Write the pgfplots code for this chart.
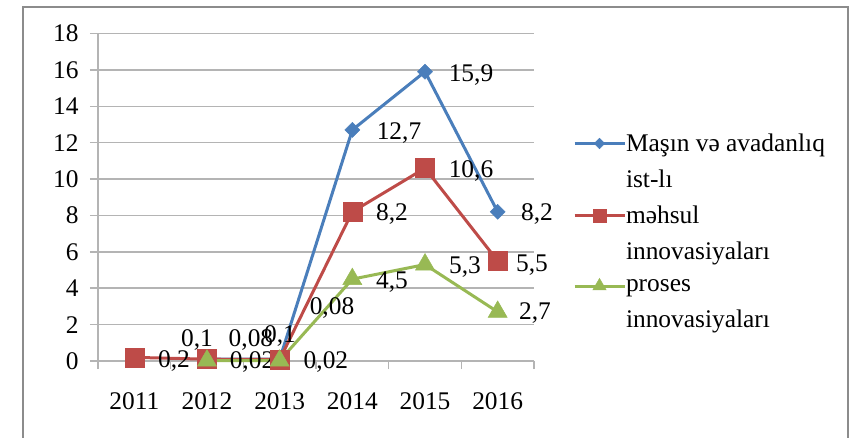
\documentclass[border=0pt]{standalone}
\usepackage{fontspec}
\setmainfont{Liberation Serif}
\usepackage{pgfplots}
\pgfplotsset{compat=1.18}
\definecolor{cblue}{RGB}{74,126,187}
\definecolor{cred}{RGB}{190,75,72}
\definecolor{cgreen}{RGB}{152,185,84}
\definecolor{cgrid}{RGB}{180,180,180}
\definecolor{cframe}{RGB}{140,140,140}
\begin{document}
\begin{tikzpicture}
\useasboundingbox (0,0) rectangle (858bp,438bp);
\clip (0,0) rectangle (858bp,438bp);
\draw[cframe, line width=1.6bp] (23bp,-20bp) -- (23bp,431bp) -- (848bp,431bp) -- (848bp,-20bp);
\begin{axis}[
  at={(98bp,77bp)}, anchor=south west,
  scale only axis, width=436bp, height=327.5bp,
  xmin=-0.5, xmax=5.5, ymin=0, ymax=18,
  clip=false,
  font=\fontsize{25.5}{30}\selectfont,
  /pgf/number format/assume math mode=true,
  axis x line=bottom, axis y line=left,
  axis line style={cgrid, line width=1.5bp, -},
  xtick={0,1,2,3,4,5},
  xticklabels={2011,2012,2013,2014,2015,2016},
  minor xtick={-0.5,0.5,1.5,2.5,3.5,4.5,5.5},
  ytick={0,2,...,18},
  tick align=outside,
  major tick length=8bp, minor tick length=8bp,
  x tick style={draw=none},
  minor x tick style={draw=cgrid, line width=1.5bp},
  y tick style={cgrid, line width=1.5bp},
  ymajorgrids, major grid style={cgrid, line width=1.5bp},
  xticklabel style={yshift=-20bp},
  yticklabel style={xshift=-8bp},
  legend image code/.code={\draw[mark repeat=2,mark phase=2,#1,every mark/.append style={scale=0.7}] plot coordinates {(0bp,0bp) (25bp,0bp) (50bp,0bp)};},
  legend cell align=left,
  legend style={draw=none, fill=none, at={(1.089,0.694)}, anchor=north west, inner sep=0pt, row sep=17bp,
    nodes={inner sep=0bp, outer xsep=2bp}, font=\fontsize{25.5}{30}\selectfont},
]
\addplot[cblue, line width=3bp, mark=square*, mark size=5.3bp, mark options={rotate=45, fill=cblue, draw=cblue, line width=0.5bp}]
  coordinates {(1,0.1) (2,0.1) (3,12.7) (4,15.9) (5,8.2)};
\addlegendimage{empty legend}
\addplot[cred, line width=3bp, mark=square*, mark size=9.5bp, mark options={fill=cred, draw=cred, line width=0.5bp}]
  coordinates {(0,0.2) (1,0.1) (2,0.08) (3,8.2) (4,10.6) (5,5.5)};
\addlegendimage{empty legend}
\addplot[cgreen, line width=3bp, mark=triangle*, mark size=11bp, mark options={fill=cgreen, draw=cgreen, line width=0.5bp}]
  coordinates {(1,0.02) (2,0.02) (3,4.5) (4,5.3) (5,2.7)};
\addlegendimage{empty legend}
\legend{Maşın və avadanlıq, ist-lı, məhsul, innovasiyaları, proses, innovasiyaları}
\path (axis cs:0.546,0) node {0,2};
\path (axis cs:0.862,1.16) node {0,1};
\path (axis cs:1.605,1.16) node {0,08};
\path (axis cs:2.004,1.38) node {0,1};
\path (axis cs:1.619,-0.05) node {0,02};
\path (axis cs:2.637,-0.05) node {0,02};
\path (axis cs:2.72,2.92) node {0,08};
\path (axis cs:3.642,12.55) node {12,7};
\path (axis cs:4.633,15.74) node {15,9};
\path (axis cs:4.633,10.46) node {10,6};
\path (axis cs:3.546,8.09) node {8,2};
\path (axis cs:5.541,8.09) node {8,2};
\path (axis cs:5.472,5.28) node {5,5};
\path (axis cs:3.546,4.35) node {4,5};
\path (axis cs:4.55,5.17) node {5,3};
\path (axis cs:5.513,2.64) node {2,7};
\end{axis}
\end{tikzpicture}
\end{document}
